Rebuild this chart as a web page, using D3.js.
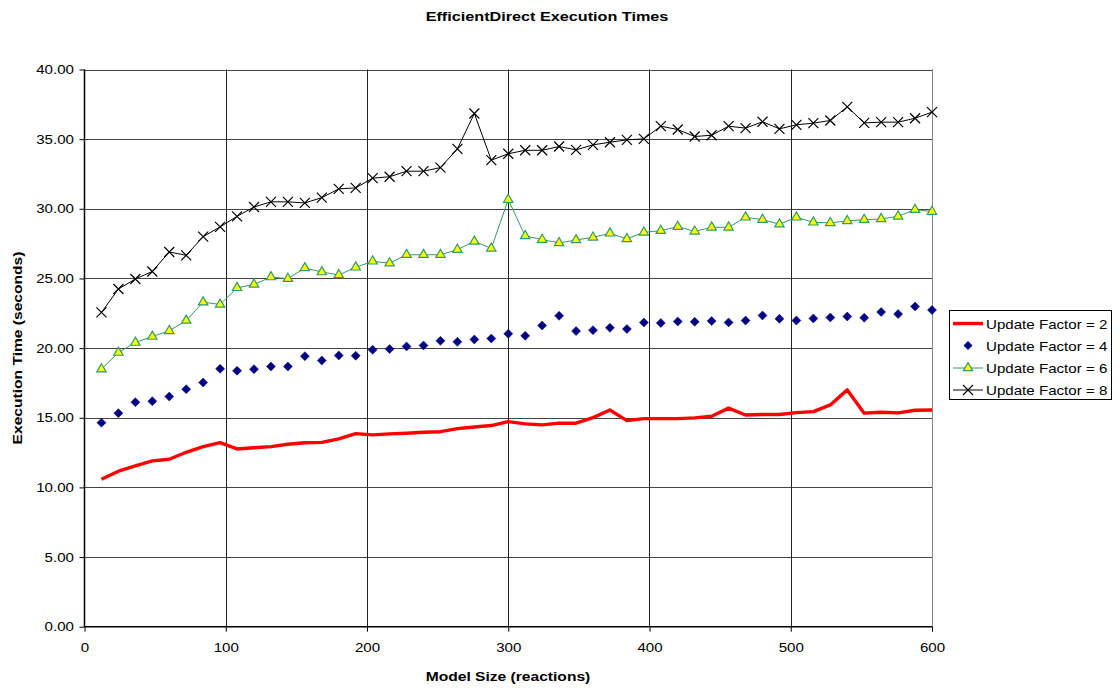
<!DOCTYPE html>
<html><head><meta charset="utf-8">
<script src="https://cdn.jsdelivr.net/npm/d3@7"></script>
<style>body{margin:0;background:#fff;} text{font-family:"Liberation Sans",Arial,sans-serif;}</style>
</head><body><svg id="c" width="1120" height="689"></svg>
<script>
const modelSizes = [12,24,36,48,60,72,84,96,108,120,132,144,156,168,180,192,204,216,228,240,252,264,276,288,300,312,324,336,348,360,372,384,396,408,420,432,444,456,468,480,492,504,516,528,540,552,564,576,588,600];
const uf2 = [10.58,11.16,11.54,11.9,12.02,12.52,12.93,13.21,12.76,12.85,12.93,13.1,13.21,13.23,13.48,13.86,13.77,13.84,13.89,13.96,14.0,14.22,14.34,14.44,14.72,14.56,14.49,14.61,14.61,15.01,15.56,14.79,14.94,14.94,14.94,14.99,15.11,15.69,15.2,15.23,15.23,15.37,15.44,15.92,17.0,15.33,15.4,15.35,15.54,15.56];
const uf4 = [14.65,15.33,16.12,16.19,16.52,17.05,17.53,18.51,18.37,18.49,18.68,18.68,19.42,19.11,19.47,19.45,19.88,19.93,20.12,20.19,20.52,20.45,20.62,20.69,21.03,20.88,21.62,22.32,21.22,21.29,21.46,21.37,21.84,21.8,21.91,21.89,21.94,21.84,21.98,22.34,22.1,21.98,22.13,22.2,22.27,22.18,22.59,22.44,22.99,22.73];
const uf6 = [18.49,19.68,20.4,20.83,21.24,21.98,23.3,23.13,24.33,24.57,25.1,24.98,25.75,25.46,25.25,25.8,26.23,26.1,26.7,26.7,26.7,27.07,27.66,27.16,30.66,28.05,27.79,27.55,27.76,27.95,28.24,27.84,28.31,28.43,28.72,28.38,28.67,28.67,29.39,29.22,28.89,29.39,29.03,28.99,29.13,29.22,29.27,29.46,29.94,29.8];
const uf8 = [22.56,24.24,24.96,25.5,26.9,26.66,28.0,28.7,29.46,30.13,30.5,30.5,30.42,30.8,31.43,31.5,32.2,32.3,32.7,32.7,32.96,34.3,36.84,33.49,33.95,34.2,34.2,34.47,34.23,34.59,34.78,34.95,35.02,35.93,35.69,35.19,35.28,35.93,35.79,36.25,35.74,36.03,36.15,36.34,37.32,36.17,36.22,36.22,36.5,36.94];
const seriesNames = ["Update Factor = 2","Update Factor = 4","Update Factor = 6","Update Factor = 8"];
const xTicks = [0,100,200,300,400,500,600];
const yTicks = [0,5,10,15,20,25,30,35,40];

const SX = 1.2; // horizontal text stretch seen in the reference
const svg = d3.select("#c");
const L=84.5, R=932, T=69.5, B=626.7;
const x = d3.scaleLinear().domain([0,600]).range([L,R]);
const y = d3.scaleLinear().domain([0,40]).range([B,T]);

function label(tx, ty, str, opts={}){
  return svg.append("text")
    .attr("transform", `translate(${tx},${ty})${opts.rotate?` rotate(${opts.rotate})`:""} scale(${SX},1)`)
    .attr("text-anchor", opts.anchor||"middle")
    .attr("font-size", opts.size||13)
    .attr("font-weight", opts.bold?"bold":"normal")
    .text(str);
}

// title
label(547, 21, "EfficientDirect Execution Times", {size:13.5, bold:true});

// gridlines
const g = svg.append("g");
g.selectAll(".hg").data(yTicks.filter(d=>d>0)).join("line")
  .attr("x1",L).attr("x2",R).attr("y1",d=>Math.round(y(d))+0.5).attr("y2",d=>Math.round(y(d))+0.5)
  .attr("stroke","#444").attr("stroke-width",1);
g.selectAll(".vg").data(xTicks.filter(d=>d>0)).join("line")
  .attr("x1",d=>Math.round(x(d))+0.5).attr("x2",d=>Math.round(x(d))+0.5).attr("y1",T).attr("y2",B)
  .attr("stroke","#222").attr("stroke-width",1);
g.append("line").attr("x1",R+0.5).attr("x2",R+0.5).attr("y1",T).attr("y2",B).attr("stroke","#888");

// axes
const xAxis = d3.axisBottom(x).tickValues(xTicks).tickSize(5).tickPadding(11).tickFormat(d3.format("d"));
const yAxis = d3.axisLeft(y).tickValues(yTicks).tickSize(5).tickPadding(6).tickFormat(d3.format(".2f"));
const gx = svg.append("g").attr("transform",`translate(0,${B})`).call(xAxis);
const gy = svg.append("g").attr("transform",`translate(${L},0)`).call(yAxis);
[gx,gy].forEach(a=>{
  a.select(".domain").attr("stroke","#000").attr("stroke-width",1.5);
  a.selectAll(".tick line").attr("stroke","#000");
  a.selectAll(".tick text").attr("font-size",12.6).attr("fill","#000")
    .attr("font-family","Liberation Sans, Arial, sans-serif");
});
gx.selectAll(".tick text").attr("transform",`scale(${SX},1)`);
gy.selectAll(".tick text").attr("x",-10.5/SX).attr("transform",`scale(${SX},1)`);
gx.select(".domain").attr("d",`M${L},0H${R}`);
gy.select(".domain").attr("d",`M0,${B}V${T}`);

// axis titles
label(508, 681, "Model Size (reactions)", {bold:true});
label(22, 348, "Execution Time (seconds)", {bold:true, rotate:-90});

const line = d3.line().x((d,i)=>x(modelSizes[i])).y(d=>y(d));
const pg = svg.append("g");

// UF8
pg.append("path").datum(uf8).attr("d",line).attr("fill","none").attr("stroke","#000").attr("stroke-width",1);
const crossPath = "M-5,-5L5,5M-5,5L5,-5";
pg.selectAll(".x8").data(uf8).join("path")
  .attr("transform",(d,i)=>`translate(${x(modelSizes[i])},${y(d)})`)
  .attr("d",crossPath).attr("stroke","#000").attr("stroke-width",1.2).attr("fill","none");

// UF6
pg.append("path").datum(uf6).attr("d",line).attr("fill","none").attr("stroke","#339966").attr("stroke-width",1);
const tri = d3.symbol().type(d3.symbolTriangle).size(38);
pg.selectAll(".t6").data(uf6).join("path")
  .attr("transform",(d,i)=>`translate(${x(modelSizes[i])},${y(d)})`)
  .attr("d",tri).attr("fill","#FFFF00").attr("stroke","#339966").attr("stroke-width",1.2);

// UF4
const dia = "M0,-4.5L4.5,0L0,4.5L-4.5,0Z";
pg.selectAll(".d4").data(uf4).join("path")
  .attr("transform",(d,i)=>`translate(${x(modelSizes[i])},${y(d)})`)
  .attr("d",dia).attr("fill","#000080").attr("stroke","#000080").attr("stroke-width",0.5);

// UF2
pg.append("path").datum(uf2).attr("d",line).attr("fill","none").attr("stroke","#FF0000").attr("stroke-width",3.4).attr("stroke-linejoin","round");

// legend
const lg = svg.append("g");
lg.append("rect").attr("x",949.5).attr("y",310.5).attr("width",162).attr("height",89)
  .attr("fill","#fff").attr("stroke","#000").attr("stroke-width",1);
const rows = [323.5,345.5,368,390];
seriesNames.forEach((name,i)=>{
  const cy = rows[i];
  if(i===0){
    lg.append("line").attr("x1",953).attr("x2",983).attr("y1",cy).attr("y2",cy).attr("stroke","#FF0000").attr("stroke-width",3.4);
  } else if(i===1){
    lg.append("path").attr("transform",`translate(968,${cy})`).attr("d",dia).attr("fill","#000080");
  } else if(i===2){
    lg.append("line").attr("x1",953).attr("x2",983).attr("y1",cy).attr("y2",cy).attr("stroke","#339966").attr("stroke-width",1);
    lg.append("path").attr("transform",`translate(968,${cy})`).attr("d",tri).attr("fill","#FFFF00").attr("stroke","#339966").attr("stroke-width",1.2);
  } else {
    lg.append("line").attr("x1",953).attr("x2",983).attr("y1",cy).attr("y2",cy).attr("stroke","#000").attr("stroke-width",1);
    lg.append("path").attr("transform",`translate(968,${cy})`).attr("d",crossPath).attr("stroke","#000").attr("stroke-width",1.2);
  }
  lg.append("text").attr("transform",`translate(986,${cy+5}) scale(${SX},1)`).attr("font-size",12.6).text(name);
});
</script></body></html>
